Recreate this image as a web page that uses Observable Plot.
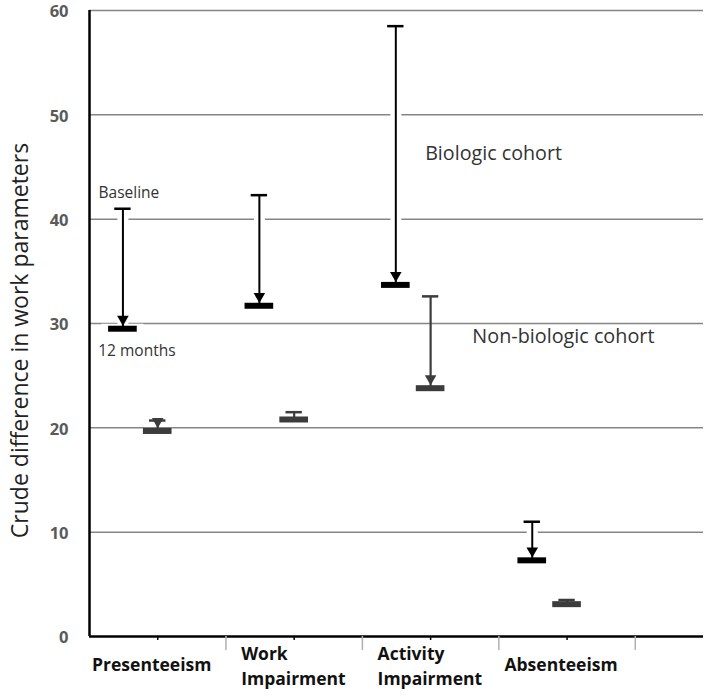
<!DOCTYPE html>
<html>
<head>
<meta charset="utf-8">
<script src="https://cdn.jsdelivr.net/npm/d3@7"></script>
<script src="https://cdn.jsdelivr.net/npm/@observablehq/plot@0.6"></script>
<style>
  html, body { margin: 0; padding: 0; background: #fff; }
  #chart svg { display: block; }
</style>
</head>
<body>
<div id="chart"></div>
<script>
// ---- data ----
const categories = ["Presenteeism", "Work\nImpairment", "Activity\nImpairment", "Absenteeism"];
const bioBaseline = [41.0, 42.3, 58.5, 11.0];
const bio12 = [29.5, 31.7, 33.7, 7.3];
const nonBaseline = [20.7, 21.5, 32.6, 3.5];
const non12 = [19.7, 20.8, 23.8, 3.1];
const yTicks = [0, 10, 20, 30, 40, 50, 60];
const gridTicks = [10, 20, 30, 40, 50, 60];

const BIO_OFF = 0.245, NON_OFF = 0.5;
const bio = categories.map((c, i) => ({c, x: i + BIO_OFF, b: bioBaseline[i], m: bio12[i]}));
const non = categories.map((c, i) => ({c, x: i + NON_OFF, b: nonBaseline[i], m: non12[i]}));
const labels = categories.map((c, i) => ({c, x: i + 0.5, multi: c.includes("\n")}));

const font = "'Open Sans', 'DejaVu Sans', sans-serif";
const capHalf = 0.06, barHalf = 0.105;

function cohortMarks(data, color, lineW, halo) {
  const marks = [];
  if (halo) {
    marks.push(Plot.ruleX(data, {x: "x", y1: "b", y2: "m", stroke: "white", strokeWidth: 11}));
    marks.push(Plot.ruleY(data, {y: "m", x1: d => d.x - barHalf - 0.05, x2: d => d.x + barHalf + 0.05, stroke: "white", strokeWidth: 10}));
  }
  marks.push(
    Plot.ruleY(data, {y: "b", x1: d => d.x - capHalf, x2: d => d.x + capHalf, stroke: color, strokeWidth: 2.5}),
    Plot.ruleX(data, {x: "x", y1: "b", y2: "m", stroke: color, strokeWidth: lineW}),
    Plot.dot(data.filter(d => d.b - d.m > 0.9), {x: "x", y: "m", symbol: "triangle", rotate: 180, r: 4.3, fill: color, stroke: null, dy: -9.5}),
    Plot.ruleY(data, {y: "m", x1: d => d.x - barHalf, x2: d => d.x + barHalf, stroke: color, strokeWidth: 6})
  );
  return marks;
}

const plot = Plot.plot({
  width: 708,
  height: 697,
  marginLeft: 89,
  marginRight: 5,
  marginTop: 10,
  marginBottom: 61,
  style: {fontFamily: font, background: "white"},
  x: {type: "linear", domain: [0, 4.5], axis: null},
  y: {domain: [0, 60], axis: null},
  marks: [
    Plot.ruleY(gridTicks, {stroke: "#858585", strokeWidth: 1.5}),
    Plot.axisY({ticks: yTicks, tickSize: 0, tickPadding: 21, dy: 1.5, fontSize: 16.5, fontWeight: "bold", fill: "#5a5a5a", label: null}),
    Plot.text(["Crude difference in work parameters"], {frameAnchor: "left", textAnchor: "middle", rotate: -90, dx: -69, dy: 17, fontSize: 23, fill: "#222", fontFamily: font}),
    ...cohortMarks(non, "#3c3c3c", 2.2, false),
    ...cohortMarks(bio, "black", 2, true),
    // axes lines
    Plot.ruleY([0], {stroke: "black", strokeWidth: 2.5}),
    Plot.ruleX([0], {y1: 0, y2: 60, stroke: "black", strokeWidth: 2.5}),
    Plot.axisX({ticks: [1, 2, 3, 4], tickSize: 14, tickFormat: () => "", stroke: "#b0b0b0", strokeWidth: 1.5, label: null}),
    Plot.axisX({ticks: [0.5, 1.5, 2.5, 3.5], tickSize: 4, tickFormat: () => "", stroke: "black", strokeWidth: 1.5, label: null}),
    // category labels
    Plot.text(labels.filter(d => !d.multi), {x: "x", y: 0, text: "c", dy: 29, dx: -6, lineAnchor: "middle", fontSize: 17.5, fontWeight: "bold", fill: "#111", textAnchor: "middle"}),
    Plot.text(labels.filter(d => d.multi), {x: "x", y: 0, text: "c", dy: 28, dx: -53, lineAnchor: "middle", lineHeight: 1.45, fontSize: 17.5, fontWeight: "bold", fill: "#111", textAnchor: "start"}),
    // annotations
    Plot.text([bio[0]], {x: "x", y: "b", text: () => "Baseline", dy: -16, dx: 6, fontSize: 15.5, fill: "#333"}),
    Plot.text([bio[0]], {x: "x", y: "m", text: () => "12 months", dy: 22, dx: 14, fontSize: 15.5, fill: "#333"}),
    Plot.text(["Biologic cohort"], {x: 2.46, y: 46.3, textAnchor: "start", fontSize: 19.7, fill: "#333"}),
    Plot.text(["Non-biologic cohort"], {x: 2.806, y: 28.7, textAnchor: "start", fontSize: 19.8, fill: "#333"})
  ]
});
document.getElementById("chart").appendChild(plot);
</script>
</body>
</html>
